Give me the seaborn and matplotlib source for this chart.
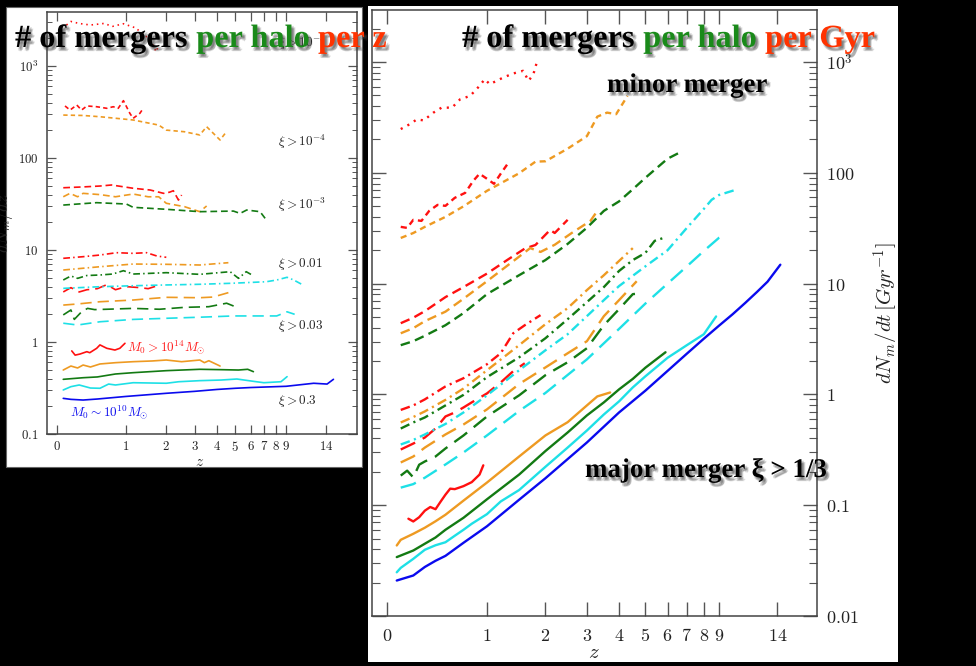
import numpy as np
import pandas as pd
import matplotlib
matplotlib.use("Agg")
import matplotlib.pyplot as plt
import matplotlib.patheffects as pe
from matplotlib.patches import Rectangle
from matplotlib.text import Annotation
from matplotlib.ticker import LogLocator, NullFormatter, NullLocator
import seaborn as sns

# ---------------- data: mergers per halo per Gyr (right panel) ----------------
# mass bins: M14 (red), M13 (orange), M12 (green), M11 (cyan), M10 (blue)
# xi thresholds: 0.3 (solid), 0.03 (long dash), 0.01 (dash-dot), 1e-3 (dash), 1e-4 (short dash), 1e-5 (dotted)
dt_z_M10_x03 = [0.07, 0.2, 0.3, 0.4, 0.5, 0.7, 1.0, 1.5, 2.0, 3.0, 4.0, 5.0, 6.0, 7.0, 8.0, 9.0, 10, 11, 12, 13, 14.3]
dt_v_M10_x03 = [0.0209, 0.0232, 0.0277, 0.0315, 0.0349, 0.0458, 0.0645, 0.112, 0.175, 0.368, 0.687, 1.08, 1.63, 2.33, 3.18, 4.17, 5.30, 6.70, 8.38, 10.4, 14.8]
dt_z_M11_x03 = [0.07, 0.1, 0.2, 0.3, 0.4, 0.5, 0.6, 0.7, 0.8, 1.0, 1.2, 1.5, 2.0, 2.5, 3.0, 3.5, 4.0, 4.5, 5.0, 6.0, 7.0, 8.0, 8.8]
dt_v_M11_x03 = [0.0248, 0.0272, 0.0328, 0.0396, 0.0435, 0.0463, 0.0530, 0.060, 0.068, 0.083, 0.108, 0.137, 0.222, 0.331, 0.472, 0.659, 0.865, 1.156, 1.455, 2.14, 2.78, 3.49, 5.05]
dt_z_M12_x03 = [0.07, 0.2, 0.3, 0.4, 0.5, 0.7, 1.0, 1.5, 2.0, 2.5, 3.0, 3.5, 4.0, 4.5, 5.0, 5.9]
dt_v_M12_x03 = [0.0340, 0.039, 0.0449, 0.0511, 0.060, 0.077, 0.113, 0.189, 0.308, 0.453, 0.646, 0.847, 1.11, 1.38, 1.74, 2.40]
dt_z_M13_x03 = [0.07, 0.1, 0.2, 0.3, 0.4, 0.5, 0.7, 1.0, 1.5, 2.0, 2.5, 3.0, 3.3, 3.7]
dt_v_M13_x03 = [0.0433, 0.0487, 0.0552, 0.0626, 0.0716, 0.082, 0.110, 0.160, 0.275, 0.426, 0.561, 0.795, 0.959, 1.04]
dt_z_M14_x03 = [0.16, 0.2, 0.25, 0.3, 0.35, 0.4, 0.45, 0.5, 0.55, 0.6, 0.7, 0.8, 0.9, 0.95]
dt_v_M14_x03 = [0.0755, 0.0713, 0.0779, 0.0892, 0.0963, 0.092, 0.1076, 0.1245, 0.141, 0.1396, 0.1486, 0.1615, 0.189, 0.229]

dt_z_M11_x003 = [0.1, 0.2, 0.3, 0.5, 0.7, 1.0, 1.5, 2.0, 3.0, 4.0, 5.0, 6.0, 7.0, 8.0, 9.0, 9.55]
dt_v_M11_x003 = [0.144, 0.155, 0.177, 0.233, 0.299, 0.426, 0.709, 1.03, 2.07, 3.9, 6.6, 10.0, 14.3, 19.7, 25.9, 28.1]
dt_z_M12_x003 = [0.1, 0.15, 0.2, 0.25, 0.3, 0.4, 0.5, 0.7, 1.0, 1.5, 2.0, 2.5, 3.0, 3.5, 4.0, 4.5, 4.9]
dt_v_M12_x003 = [0.185, 0.205, 0.178, 0.232, 0.248, 0.275, 0.325, 0.426, 0.632, 0.98, 1.49, 1.95, 2.61, 4.21, 5.88, 8.03, 8.2]
dt_z_M13_x003 = [0.1, 0.2, 0.3, 0.5, 0.7, 1.0, 1.5, 2.0, 2.5, 3.0, 3.5, 4.0, 4.65]
dt_v_M13_x003 = [0.243, 0.275, 0.331, 0.435, 0.535, 0.732, 1.24, 1.75, 2.35, 3.02, 5.08, 7.09, 10.5]
dt_z_M14_x003 = [0.1, 0.2, 0.3, 0.4, 0.5, 0.6, 0.7, 0.8, 1.0, 1.2, 1.4, 1.6]
dt_v_M14_x003 = [0.318, 0.360, 0.408, 0.492, 0.632, 0.687, 0.762, 0.847, 1.02, 1.28, 1.62, 1.91]

dt_z_M11_x001 = [0.1, 0.2, 0.3, 0.5, 0.7, 1.0, 1.5, 2.0, 2.5, 3.0, 3.5, 4.0, 5.0, 6.0, 7.0, 8.0, 8.5, 9.0, 10.3]
dt_v_M11_x001 = [0.353, 0.388, 0.435, 0.541, 0.687, 0.98, 1.65, 2.50, 3.49, 5.08, 7.09, 9.5, 14.3, 20.0, 31.8, 47.2, 57, 63, 70.6]
dt_z_M12_x001 = [0.1, 0.2, 0.3, 0.5, 0.7, 1.0, 1.5, 2.0, 2.5, 3.0, 3.5, 4.0, 4.5, 5.0, 5.4, 5.8]
dt_v_M12_x001 = [0.492, 0.558, 0.619, 0.795, 0.99, 1.43, 2.16, 3.21, 4.77, 6.8, 9.3, 13.0, 16.3, 18.9, 24.3, 25.8]
dt_z_M13_x001 = [0.1, 0.2, 0.3, 0.5, 0.7, 1.0, 1.5, 2.0, 2.5, 3.0, 3.5, 4.0, 4.5]
dt_v_M13_x001 = [0.558, 0.625, 0.702, 0.892, 1.13, 1.65, 2.78, 4.30, 6.0, 8.73, 11.9, 16.0, 20.9]
dt_z_M14_x001 = [0.1, 0.2, 0.3, 0.5, 0.7, 1.0, 1.2, 1.4, 1.6, 1.9]
dt_v_M14_x001 = [0.724, 0.795, 0.901, 1.18, 1.40, 1.87, 2.35, 3.56, 4.21, 5.19]

dt_z_M12_x1e3 = [0.1, 0.2, 0.3, 0.5, 0.7, 1.0, 1.5, 2.0, 2.5, 3.0, 3.5, 4.0, 4.5, 5.0, 6.0, 6.7]
dt_v_M12_x1e3 = [2.78, 3.02, 3.38, 4.21, 5.42, 8.03, 11.9, 16.3, 22.8, 31.9, 45.3, 55.2, 71, 90, 134, 155]
dt_z_M13_x1e3 = [0.1, 0.2, 0.3, 0.5, 0.7, 1.0, 1.5, 1.7, 1.9, 2.2, 2.6, 3.1, 3.3]
dt_v_M13_x1e3 = [3.56, 3.96, 4.58, 5.58, 7.3, 10.5, 17.5, 20.9, 19.3, 22.4, 28.6, 36.8, 45.3]
dt_z_M14_x1e3 = [0.1, 0.2, 0.3, 0.5, 0.7, 1.0, 1.3, 1.6, 1.8, 2.1, 2.2, 2.5]
dt_v_M14_x1e3 = [4.39, 4.92, 5.64, 7.55, 9.3, 12.3, 16.3, 20.7, 22.3, 30.5, 28.6, 37.6]

dt_z_M13_x1e4 = [0.1, 0.2, 0.3, 0.5, 0.7, 1.0, 1.5, 1.8, 2.0, 2.5, 3.0, 3.3, 3.6, 3.9, 4.3]
dt_v_M13_x1e4 = [25.8, 28.6, 32.5, 40.0, 49.8, 68.7, 99, 126, 127, 165, 214, 321, 349, 338, 494]
dt_z_M14_x1e4 = [0.1, 0.15, 0.2, 0.27, 0.34, 0.42, 0.5, 0.6, 0.72, 0.82, 0.9, 1.0, 1.1, 1.2, 1.32]
dt_v_M14_x1e4 = [32.5, 31.8, 37.6, 36.8, 45.3, 51.3, 50.3, 59.4, 65.9, 84.7, 98, 88.3, 79.5, 98, 123]

dt_z_M14_x1e5 = [0.1, 0.17, 0.23, 0.29, 0.38, 0.46, 0.57, 0.66, 0.78, 0.88, 0.97, 1.04, 1.24, 1.40, 1.57, 1.67, 1.76, 1.82]
dt_v_M14_x1e5 = [248, 274, 303, 297, 349, 387, 387, 460, 494, 588, 698, 630, 724, 787, 832, 676, 776, 969]

# ---------------- data: mergers per halo per unit z (left panel) ----------------
dz_z_M10_x03 = [0.065, 0.15, 0.3, 0.5, 1.0, 2.0, 3.0, 4.0, 5.0, 6.0, 9.0, 12.2, 14.1, 15.1]
dz_v_M10_x03 = [0.244, 0.238, 0.234, 0.240, 0.256, 0.277, 0.291, 0.305, 0.314, 0.320, 0.330, 0.356, 0.349, 0.393]
dz_z_M11_x03 = [0.065, 0.15, 0.25, 0.4, 0.54, 0.68, 0.8, 1.15, 2.0, 2.4, 3.2, 4.2, 5.1, 6.3, 7.0, 8.5, 9.1]
dz_v_M11_x03 = [0.301, 0.327, 0.341, 0.316, 0.314, 0.349, 0.341, 0.361, 0.356, 0.370, 0.380, 0.386, 0.396, 0.372, 0.361, 0.370, 0.420]
dz_z_M12_x03 = [0.065, 0.3, 0.5, 0.8, 1.15, 2.0, 3.2, 4.3, 5.2, 5.8, 6.2]
dz_v_M12_x03 = [0.393, 0.409, 0.417, 0.449, 0.464, 0.488, 0.505, 0.500, 0.496, 0.505, 0.476]
dz_z_M13_x03 = [0.065, 0.15, 0.23, 0.3, 0.4, 0.54, 0.8, 1.15, 1.6, 2.0, 2.5, 3.2, 3.4, 3.6, 4.15]
dz_v_M13_x03 = [0.496, 0.548, 0.522, 0.562, 0.535, 0.577, 0.596, 0.611, 0.622, 0.637, 0.611, 0.637, 0.596, 0.626, 0.548]
dz_z_M14_x03 = [0.16, 0.2, 0.26, 0.35, 0.39, 0.49, 0.54, 0.65, 0.79, 0.88, 0.98]
dz_v_M14_x03 = [0.80, 0.72, 0.74, 0.785, 0.765, 0.854, 0.93, 0.854, 0.818, 0.854, 0.968]

dz_z_M11_x003 = [0.065, 0.23, 0.54, 1.15, 2.0, 3.2, 4.9, 7.0, 8.1, 9.1, 9.9]
dz_v_M11_x003 = [1.60, 1.53, 1.66, 1.76, 1.81, 1.86, 1.92, 1.92, 1.92, 2.13, 2.0]
dz_z_M12_x003 = [0.065, 0.15, 0.19, 0.28, 0.36, 0.46, 0.65, 1.15, 1.8, 2.6, 3.6, 4.5, 5.1]
dz_v_M12_x003 = [1.97, 2.23, 1.76, 2.13, 2.32, 2.25, 2.27, 2.32, 2.27, 2.38, 2.42, 2.64, 2.38]
dz_z_M13_x003 = [0.065, 0.23, 0.54, 1.15, 2.0, 3.2, 3.8, 4.6]
dz_v_M13_x003 = [2.52, 2.59, 2.74, 2.86, 3.06, 3.03, 3.08, 3.44]
dz_z_M14_x003 = [0.065, 0.15, 0.25, 0.35, 0.5, 0.65, 0.8, 1.0, 1.3, 1.5, 1.75]
dz_v_M14_x003 = [3.5, 3.9, 3.5, 3.7, 3.8, 4.2, 3.7, 4.0, 3.9, 3.8, 4.1]

dz_z_M11_x001 = [0.065, 0.54, 1.15, 2.0, 3.2, 4.8, 7.2, 8.1, 9.1, 9.8, 10.7]
dz_v_M11_x001 = [3.83, 3.99, 4.09, 4.17, 4.24, 4.35, 4.52, 4.72, 5.05, 4.72, 4.24]
dz_z_M12_x001 = [0.065, 0.15, 0.23, 0.35, 0.54, 0.75, 0.95, 1.15, 2.0, 3.2, 4.7, 5.2, 5.7, 6.1]
dz_v_M12_x001 = [4.72, 5.22, 4.92, 5.28, 5.35, 5.48, 5.96, 5.48, 5.67, 5.44, 5.81, 4.92, 5.81, 5.35]
dz_z_M13_x001 = [0.065, 0.54, 1.15, 2.0, 3.2, 4.6]
dz_v_M13_x001 = [6.06, 6.58, 7.04, 6.99, 6.87, 7.28]
dz_z_M14_x001 = [0.065, 0.3, 0.54, 0.82, 1.15, 1.46, 1.73, 2.0]
dz_v_M14_x001 = [8.12, 8.46, 8.82, 9.35, 9.2, 9.35, 8.6, 8.33]

dz_z_M12_x1e3 = [0.065, 0.49, 1.01, 1.15, 2.0, 3.2, 4.89, 5.3, 5.73, 6.7, 7.1]
dz_v_M12_x1e3 = [30.8, 32.7, 31.6, 29.1, 27.7, 26.1, 26.5, 25.0, 27.2, 26.1, 22.1]
dz_z_M13_x1e3 = [0.065, 0.14, 0.23, 0.3, 0.54, 0.8, 1.15, 1.5, 1.78, 2.0, 2.6, 3.2, 3.5]
dz_v_M13_x1e3 = [37.9, 41.3, 37.9, 41.3, 40.0, 37.9, 40.6, 37.9, 37.9, 32.2, 29.6, 26.1, 30.1]
dz_z_M14_x1e3 = [0.065, 0.3, 0.54, 0.73, 1.15, 1.55, 1.92, 2.1, 2.22, 2.39, 2.5]
dz_v_M14_x1e3 = [47.5, 48.5, 49.6, 50.9, 46.9, 44.9, 41.3, 42.5, 44.1, 34.9, 39.6]

dz_z_M13_x1e4 = [0.065, 0.3, 0.54, 1.15, 1.78, 2.0, 2.6, 3.2, 3.5, 4.15, 4.42]
dz_v_M13_x1e4 = [293, 290, 281, 259, 228, 201, 193, 178, 219, 157, 185]
dz_z_M14_x1e4 = [0.084, 0.14, 0.22, 0.28, 0.35, 0.49, 0.65, 0.76, 0.85, 0.95, 1.08, 1.15, 1.30, 1.38]
dz_v_M14_x1e4 = [368, 332, 377, 332, 368, 361, 347, 361, 347, 420, 306, 270, 306, 347]

dz_z_M14_x1e5 = [0.1, 0.15, 0.25, 0.4, 0.6, 0.75, 0.95, 1.2, 1.45, 1.6, 1.71, 1.78]
dz_v_M14_x1e5 = [2790, 3050, 2900, 2790, 2900, 2700, 2880, 2600, 2100, 1770, 1430, 1690]

# tick labels
z_ticks = [0, 1, 2, 3, 4, 5, 6, 7, 8, 9, 14]
left_yticks = [0.1, 1, 10, 100, 1000]
left_ylabels = [r"$0.1$", r"$1$", r"$10$", r"$100$", r"$10^3$"]
right_yticks = [0.01, 0.1, 1, 10, 100, 1000]
right_ylabels = [r"$0.01$", r"$0.1$", r"$1$", r"$10$", r"$100$", r"$10^3$"]

mass_order = ["M14", "M13", "M12", "M11", "M10"]
xi_order = ["x1e5", "x1e4", "x1e3", "x001", "x003", "x03"]

# ---------------- build long tables ----------------
g = globals()
rows = []
for prefix, panel in (("dt", "right"), ("dz", "left")):
    for m in mass_order:
        for x in xi_order:
            kz = f"{prefix}_z_{m}_{x}"
            kv = f"{prefix}_v_{m}_{x}"
            if kz in g:
                for zz, vv in zip(g[kz], g[kv]):
                    rows.append((panel, m, x, zz, vv))
df = pd.DataFrame(rows, columns=["panel", "mass", "xi", "z", "v"])

# ---------------- style ----------------
sns.set_theme(style="white")
plt.rcParams.update({
    "mathtext.fontset": "cm",
    "font.family": ["DejaVu Serif"],
    "axes.unicode_minus": False,
})

palette = {"M14": "#ff1010", "M13": "#ee9a22", "M12": "#137a13", "M11": "#1ee0e6", "M10": "#0a0aee"}
dashes = {"x03": "", "x003": (6.75, 3.6), "x001": (4.05, 1.9, 0.9, 1.9),
          "x1e3": (4.05, 2.3), "x1e4": (2.6, 1.9), "x1e5": (0.9, 2.3)}

W, H = 976, 666
def P(x, y):
    return (x / W, 1 - y / H)

fig = plt.figure(figsize=(9.76, 6.66), dpi=100, facecolor="black")
fig.patches.append(Rectangle(P(6, 467), 356 / W, 460 / H, transform=fig.transFigure,
                             facecolor="white", edgecolor="#666666", lw=0.8, zorder=-1))
fig.patches.append(Rectangle(P(368, 662), 530 / W, 656 / H, transform=fig.transFigure,
                             facecolor="white", edgecolor="none", zorder=-1))

ax1 = fig.add_axes([47 / W, 1 - 434 / H, 310 / W, 422 / H])
ax2 = fig.add_axes([372 / W, 1 - 616 / H, 445 / W, 606 / H])

fwd = lambda z: np.log10(np.clip(1 + np.asarray(z, dtype=float), 1e-9, None))
inv = lambda u: 10 ** np.asarray(u, dtype=float) - 1

for ax, panel, lw, fs in ((ax1, "left", 1.2, 9.3), (ax2, "right", 1.7, 13)):
    ax.set_facecolor("white")
    ax.set_xscale("function", functions=(fwd, inv))
    ax.set_yscale("log")
    sub = df[df.panel == panel]
    sns.lineplot(data=sub, x="z", y="v", hue="mass", style="xi",
                 hue_order=mass_order, style_order=xi_order,
                 palette=palette, dashes=dashes, estimator=None, sort=True,
                 legend=False, lw=lw, ax=ax)
    ax.set_xticks(z_ticks, labels=[f"${t}$" for t in z_ticks])
    ax.xaxis.set_minor_locator(NullLocator())
    ax.yaxis.set_minor_locator(LogLocator(base=10, subs=np.arange(2, 10)))
    ax.yaxis.set_minor_formatter(NullFormatter())
    for s in ax.spines.values():
        s.set_color("#444444")
        s.set_linewidth(1.1)
    ax.set_ylabel("")
    ax.set_xlabel("")

# left axes
ax1.set_xlim(-0.0956, 19.4)
ax1.set_ylim(0.1, 3865)
ax1.set_yticks(left_yticks, labels=left_ylabels)
ax1.yaxis.set_minor_formatter(NullFormatter())
ax1.tick_params(axis="both", which="both", direction="in", top=True, bottom=True,
                left=True, right=True, color="#555555", labelcolor="#222222", labelsize=9.3)
ax1.tick_params(axis="both", which="major", length=6.5, width=0.9)
ax1.tick_params(axis="both", which="minor", length=3.3, width=0.7)
ax1.tick_params(axis="x", pad=4.5)
ax1.tick_params(axis="y", pad=6)
ax1.set_xlabel(r"$z$", fontsize=11, color="#222222", va="center")
ax1.xaxis.set_label_coords((200 - 47) / 310, -(462 - 434) / 422)
ax1.set_ylabel(r"$dN_m/dz$", fontsize=12, color="#222222", va="center")
ax1.yaxis.set_label_coords((4 - 47) / 310, 0.5)

# right axes
ax2.set_xlim(-0.0988, 18.73)
ax2.set_ylim(0.01, 2944)
ax2.set_yticks(right_yticks, labels=right_ylabels)
ax2.yaxis.set_minor_formatter(NullFormatter())
ax2.tick_params(axis="both", which="both", direction="in", top=True, bottom=True,
                left=True, right=True, labelleft=False, labelright=True,
                color="#555555", labelcolor="#222222", labelsize=13)
ax2.tick_params(axis="both", which="major", length=10, width=1.0)
ax2.tick_params(axis="both", which="minor", length=5.5, width=0.8)
ax2.tick_params(axis="x", pad=8)
ax2.tick_params(axis="y", pad=6.5)
ax2.set_xlabel(r"$z$", fontsize=15, color="#222222", va="center")
ax2.xaxis.set_label_coords((594 - 372) / 445, -(652 - 616) / 606)
ax2.yaxis.set_label_position("right")
ax2.set_ylabel(r"$dN_m/dt\,[Gyr^{-1}]$", fontsize=15, color="#222222", va="center", rotation=90)
ax2.yaxis.set_label_coords((886 - 372) / 445, 0.5)

# ---------------- annotations (left panel) ----------------
ann_fs = 9.5
for (x, y, s) in ((278, 42, r"$\xi > 10^{-5}$"), (278, 142, r"$\xi > 10^{-4}$"),
                  (278, 205, r"$\xi > 10^{-3}$"), (278, 264, r"$\xi > 0.01$"),
                  (278, 326, r"$\xi > 0.03$"), (278, 401, r"$\xi > 0.3$")):
    fig.text(*P(x, y), s, fontsize=ann_fs, color="#222222", va="center", ha="left", zorder=3)
fig.text(*P(127, 348), r"$M_0 > 10^{14}M_{\odot}$", fontsize=ann_fs, color="#ff2020",
         va="center", ha="left", zorder=3)
fig.text(*P(70, 413), r"$M_0 \sim 10^{10}M_{\odot}$", fontsize=ann_fs, color="#1010ee",
         va="center", ha="left", zorder=3)

# ---------------- titles with shadow ----------------
def shadow():
    fx = [pe.SimplePatchShadow(offset=o, shadow_rgbFace="#404040", alpha=0.16)
          for o in [(1.2, -1.6), (2.2, -2.4), (1.8, -1.0), (1.0, -2.6), (2.8, -2.0), (2.0, -3.0)]]
    return fx + [pe.Normal()]

tfont = dict(family="Liberation Serif", fontweight="bold")

def title(x_px, y_px, last, fs=23.3):
    t1 = fig.text(*P(x_px, y_px), "# of mergers", fontsize=fs, color="black", va="bottom",
                  ha="left", zorder=10, path_effects=shadow(), **tfont)
    gap = 0.25 * fs
    a2 = Annotation("per halo", xy=(1, 0), xycoords=t1, xytext=(gap, 0),
                    textcoords="offset points", va="bottom", ha="left", fontsize=fs,
                    color="#1a8a1a", zorder=10, path_effects=shadow(), **tfont)
    fig.add_artist(a2)
    a3 = Annotation(last, xy=(1, 0), xycoords=a2, xytext=(gap, 0),
                    textcoords="offset points", va="bottom", ha="left", fontsize=fs,
                    color="#ff3300", zorder=10, path_effects=shadow(), **tfont)
    fig.add_artist(a3)

title(15, 54, "per z")
title(462, 54, "per Gyr")

fig.text(*P(607, 92), "minor merger", fontsize=19.4, color="black", va="baseline", ha="left",
         zorder=10, path_effects=shadow(), **tfont)
fig.text(*P(585, 477), "major merger \u03be > 1/3", fontsize=19.4, color="black", va="baseline",
         ha="left", zorder=10, path_effects=shadow(), **tfont)

fig.savefig("out.png", dpi=100, facecolor="black")
